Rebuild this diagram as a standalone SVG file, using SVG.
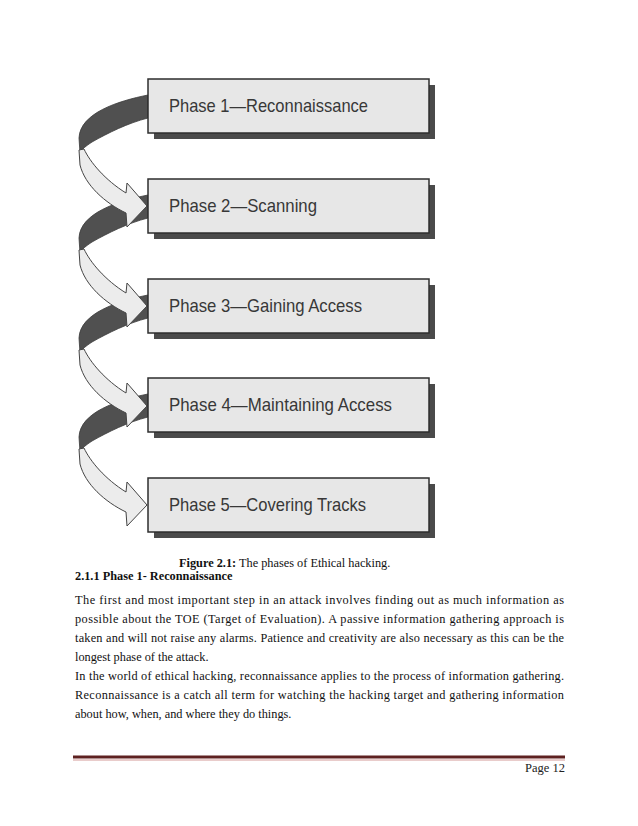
<svg xmlns="http://www.w3.org/2000/svg" width="638" height="826" viewBox="0 0 638 826">
<style>
.shadow{fill:#4a4a4a}
.box{fill:#e7e7e7;stroke:#2e2e2e;stroke-width:1.5}
.lbl{font-family:"Liberation Sans",Arial,sans-serif;font-size:19px;fill:#383838}
.dark{fill:#505050;stroke:#3a3a3a;stroke-width:0.8}
.light{fill:#ececec;stroke:#444;stroke-width:1}
.body{font-family:"Liberation Serif","Times New Roman",serif;font-size:12.3px;fill:#111}
.b{font-weight:bold}
</style>
<defs>
<path id="band" d="M148,95 C118,101 80,113 79,138 L80,153 C82,149 86,146 92,142 C108,133 128,123 148,118 Z"/>
<path id="arr" d="M84,149 C90,162 105,180 126,193 L127,183 L147,206 L127,227 L126,213 C105,203 85,185 80,165 L79,150 Z"/>
</defs>
<rect width="638" height="826" fill="#fff"/>
<g id="connectors">
<use href="#band" class="dark"/>
<use href="#band" class="dark" transform="translate(0,100)"/>
<use href="#band" class="dark" transform="translate(0,200)"/>
<use href="#band" class="dark" transform="translate(0,299)"/>
<use href="#arr" class="light"/>
<use href="#arr" class="light" transform="translate(0,100)"/>
<use href="#arr" class="light" transform="translate(0,200)"/>
<use href="#arr" class="light" transform="translate(0,299)"/>
</g>
<g id="phase1">
<rect class="shadow" x="154" y="85" width="281" height="54"/>
<rect class="box" x="148" y="79" width="281" height="54"/>
<text class="lbl" x="169" y="112" textLength="199" lengthAdjust="spacingAndGlyphs">Phase 1—Reconnaissance</text>
</g>
<g id="phase2">
<rect class="shadow" x="154" y="185" width="281" height="54"/>
<rect class="box" x="148" y="179" width="281" height="54"/>
<text class="lbl" x="169" y="212" textLength="148" lengthAdjust="spacingAndGlyphs">Phase 2—Scanning</text>
</g>
<g id="phase3">
<rect class="shadow" x="154" y="285" width="281" height="54"/>
<rect class="box" x="148" y="279" width="281" height="54"/>
<text class="lbl" x="169" y="312" textLength="193" lengthAdjust="spacingAndGlyphs">Phase 3—Gaining Access</text>
</g>
<g id="phase4">
<rect class="shadow" x="154" y="384" width="281" height="54"/>
<rect class="box" x="148" y="378" width="281" height="54"/>
<text class="lbl" x="169" y="411" textLength="223" lengthAdjust="spacingAndGlyphs">Phase 4—Maintaining Access</text>
</g>
<g id="phase5">
<rect class="shadow" x="154" y="484" width="281" height="54"/>
<rect class="box" x="148" y="478" width="281" height="54"/>
<text class="lbl" x="169" y="511" textLength="197" lengthAdjust="spacingAndGlyphs">Phase 5—Covering Tracks</text>
</g>
<g id="text">
<text class="body" x="179" y="567"><tspan class="b">Figure 2.1:</tspan> The phases of Ethical hacking.</text>
<text class="body b" x="75" y="580">2.1.1 Phase 1- Reconnaissance</text>
<text class="body" x="75" y="604" textLength="489" lengthAdjust="spacing">The first and most important step in an attack involves finding out as much information as</text>
<text class="body" x="75" y="623" textLength="489" lengthAdjust="spacing">possible about the TOE (Target of Evaluation). A passive information gathering approach is</text>
<text class="body" x="75" y="642" textLength="489" lengthAdjust="spacing">taken and will not raise any alarms. Patience and creativity are also necessary as this can be the</text>
<text class="body" x="75" y="661">longest phase of the attack.</text>
<text class="body" x="75" y="680" textLength="489" lengthAdjust="spacing">In the world of ethical hacking, reconnaissance applies to the process of information gathering.</text>
<text class="body" x="75" y="699" textLength="489" lengthAdjust="spacing">Reconnaissance is a catch all term for watching the hacking target and gathering information</text>
<text class="body" x="75" y="718">about how, when, and where they do things.</text>
</g>
<g id="footer">
<rect x="73" y="755.5" width="492" height="3" fill="#5e2120"/>
<rect x="73" y="759.5" width="492" height="1" fill="#d49a98"/>
<text x="565" y="772" text-anchor="end" font-family="'Liberation Serif','DejaVu Serif',serif" font-size="12.5" fill="#222">Page 12</text>
</g>
</svg>
